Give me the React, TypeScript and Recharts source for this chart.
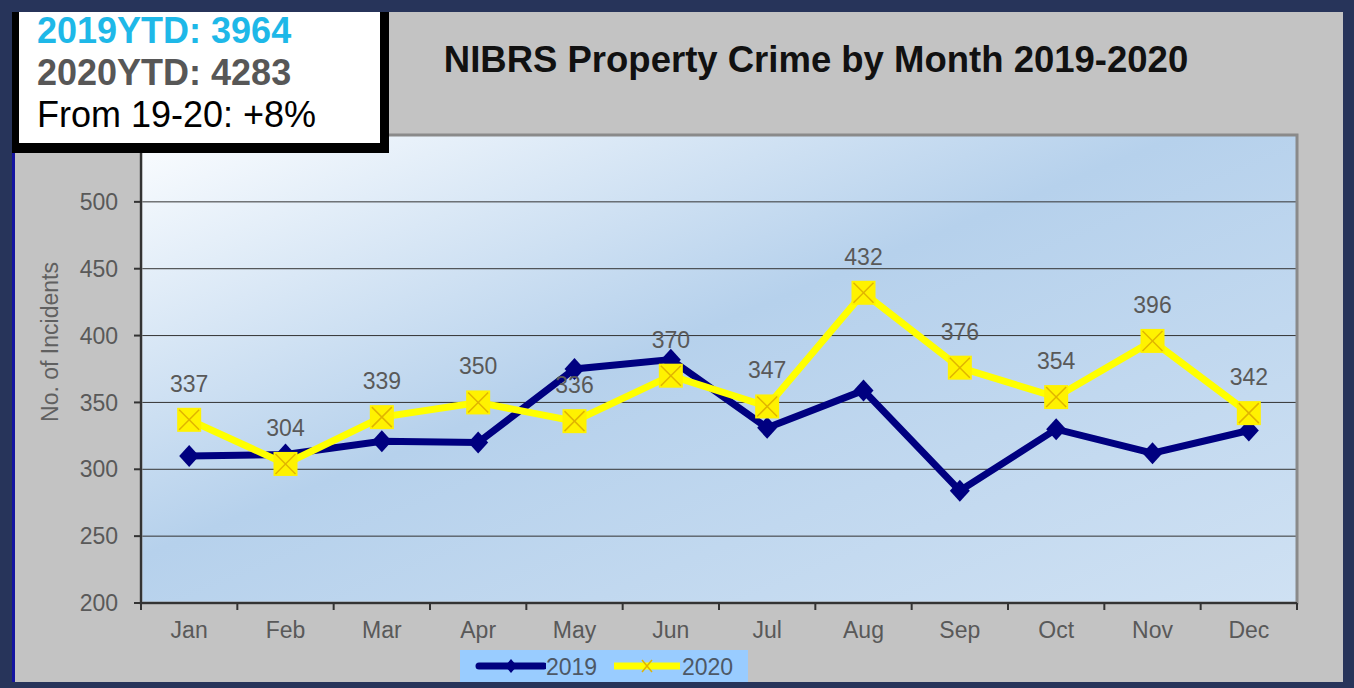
import React from 'react'
import {
  LineChart,
  Line,
  XAxis,
  YAxis,
  CartesianGrid,
  ReferenceArea,
  LabelList,
  Legend
} from 'recharts'

const months = ['Jan', 'Feb', 'Mar', 'Apr', 'May', 'Jun', 'Jul', 'Aug', 'Sep', 'Oct', 'Nov', 'Dec']
const crimes2019 = [310, 311, 321, 320, 375, 382, 331, 359, 284, 330, 312, 329]
const crimes2020 = [337, 304, 339, 350, 336, 370, 347, 432, 376, 354, 396, 342]
// 550 sits behind the YTD box in the original, so only 200-500 show
const yTicks = [200, 250, 300, 350, 400, 450, 500]
const yDomain = [200, 550]

const W = 1354
const H = 688
const PLOT_LEFT = 141
const PLOT_RIGHT = 1297
const PLOT_TOP = 135
const PLOT_BOTTOM = 603
const Y_AXIS_W = 100
const X_AXIS_H = 60
const BAND = (PLOT_RIGHT - PLOT_LEFT) / months.length

const NAVY = '#000080'
const YELLOW = '#ffff00'
const LABEL_GRAY = '#595959'
const FONT = 'Arial, "Liberation Sans", Helvetica, sans-serif'

const chartData = months.map((m, i) => ({ month: m, y2019: crimes2019[i], y2020: crimes2020[i] }))

function DiamondDot(props: any) {
  const { cx, cy } = props
  if (cx == null || cy == null) return null
  return (
    <polygon
      points={`${cx},${cy - 11} ${cx + 10},${cy} ${cx},${cy + 11} ${cx - 10},${cy}`}
      fill={NAVY}
    />
  )
}

function CrossSquareDot(props: any) {
  const { cx, cy } = props
  if (cx == null || cy == null) return null
  const s = 12
  return (
    <g>
      <rect x={cx - s} y={cy - s} width={s * 2} height={s * 2} fill="#fff200" />
      <line x1={cx - s + 2} y1={cy - s + 2} x2={cx + s - 2} y2={cy + s - 2} stroke="#e0b400" strokeWidth={1.5} />
      <line x1={cx + s - 2} y1={cy - s + 2} x2={cx - s + 2} y2={cy + s - 2} stroke="#e0b400" strokeWidth={1.5} />
    </g>
  )
}

// excel style: ticks sit between categories, labels in the middle
function MonthTick(props: any) {
  const { x, y, payload, index } = props
  return (
    <g>
      <line x1={x - BAND / 2} y1={y} x2={x - BAND / 2} y2={y + 7} stroke="#333" strokeWidth={2} />
      {index === months.length - 1 && (
        <line x1={x + BAND / 2} y1={y} x2={x + BAND / 2} y2={y + 7} stroke="#333" strokeWidth={2} />
      )}
      <text x={x} y={y + 35} textAnchor="middle" fill={LABEL_GRAY} fontSize={23} fontFamily={FONT}>
        {payload.value}
      </text>
    </g>
  )
}

// plot frame: the area between first/last month, widened by half a band each side
function PlotFrame(props: any) {
  const { x, y, width, height } = props
  return (
    <rect x={x - BAND / 2} y={y} width={width + BAND} height={height} fill="none" stroke="#8a8a8a" strokeWidth={3} />
  )
}

function LegendBox() {
  return (
    <div
      style={{
        background: '#99ccff',
        width: 288,
        height: 34,
        display: 'flex',
        alignItems: 'center',
        fontFamily: FONT,
        fontSize: 23,
        color: '#4d5866'
      }}
    >
      <svg width={86} height={34} style={{ display: 'block' }}>
        <line x1={19} y1={16} x2={84} y2={16} stroke={NAVY} strokeWidth={7} strokeLinecap="round" />
        <polygon points="51,9 57,16 51,23 45,16" fill={NAVY} />
      </svg>
      <span style={{ width: 66 }}>2019</span>
      <svg width={70} height={34} style={{ display: 'block' }}>
        <line x1={2} y1={16} x2={68} y2={16} stroke={YELLOW} strokeWidth={7} />
        <line x1={30} y1={10} x2={40} y2={22} stroke="#e0b400" strokeWidth={1.5} />
        <line x1={40} y1={10} x2={30} y2={22} stroke="#e0b400" strokeWidth={1.5} />
      </svg>
      <span>2020</span>
    </div>
  )
}

export default function App() {
  return (
    <div style={{ position: 'absolute', left: 0, top: 0, width: W, height: H, background: '#c3c3c3', overflow: 'hidden' }}>
      <div style={{ position: 'absolute', left: 0, top: 0 }}>
        <LineChart
          width={W}
          height={H}
          data={chartData}
          margin={{
            top: PLOT_TOP,
            right: W - PLOT_RIGHT,
            bottom: H - PLOT_BOTTOM - X_AXIS_H,
            left: PLOT_LEFT - Y_AXIS_W
          }}
        >
          <defs>
            <linearGradient id="plotBg" x1="0" y1="0" x2="1" y2="1">
              <stop offset="0%" stopColor="#fbfdff" />
              <stop offset="45%" stopColor="#b6d1ec" />
              <stop offset="100%" stopColor="#cfe1f3" />
            </linearGradient>
          </defs>
          <CartesianGrid vertical={false} fill="url(#plotBg)" fillOpacity={1} stroke="#333" strokeWidth={1} />
          <ReferenceArea
            y1={yDomain[0]}
            y2={yDomain[1]}
            ifOverflow="visible"
            shape={<PlotFrame />}
          />
          <XAxis
            dataKey="month"
            height={X_AXIS_H}
            padding={{ left: BAND / 2, right: BAND / 2 }}
            axisLine={{ stroke: '#333', strokeWidth: 2 }}
            tickLine={false}
            tickSize={0}
            tickMargin={0}
            interval={0}
            tick={<MonthTick />}
          />
          <YAxis
            width={Y_AXIS_W}
            domain={yDomain}
            ticks={yTicks}
            interval={0}
            axisLine={{ stroke: '#333', strokeWidth: 2 }}
            tickLine={{ stroke: '#333', strokeWidth: 2 }}
            tickSize={7}
            tickMargin={16}
            tick={{ fill: LABEL_GRAY, fontSize: 23, fontFamily: FONT }}
            label={{
              content: (p: any) => {
                const vb = p.viewBox
                const lx = vb.x + 9
                const ly = 342
                return (
                  <text
                    x={lx}
                    y={ly}
                    transform={`rotate(-90, ${lx}, ${ly})`}
                    textAnchor="middle"
                    dominantBaseline="central"
                    fill="#606060"
                    fontSize={23}
                    fontFamily={FONT}
                  >
                    No. of Incidents
                  </text>
                )
              }
            }}
          />
          <Line
            type="linear"
            dataKey="y2019"
            name="2019"
            stroke={NAVY}
            strokeWidth={7}
            dot={<DiamondDot />}
            activeDot={false}
            isAnimationActive={false}
          />
          <Line
            type="linear"
            dataKey="y2020"
            name="2020"
            stroke={YELLOW}
            strokeWidth={7}
            dot={<CrossSquareDot />}
            activeDot={false}
            isAnimationActive={false}
          >
            <LabelList dataKey="y2020" position="top" offset={28} fill={LABEL_GRAY} fontSize={23} fontFamily={FONT} />
          </Line>
          <Legend
            layout="horizontal"
            verticalAlign="middle"
            align="center"
            content={() => <LegendBox />}
            wrapperStyle={{ left: 460, top: 650, width: 288, height: 34 }}
          />
        </LineChart>
      </div>

      {/* title */}
      <div
        style={{
          position: 'absolute',
          left: 0,
          width: 1632,
          top: 40,
          textAlign: 'center',
          fontFamily: FONT,
          fontWeight: 'bold',
          fontSize: 36.5,
          lineHeight: '40px',
          color: '#111'
        }}
      >
        NIBRS Property Crime by Month 2019-2020
      </div>

      {/* YTD box */}
      <div
        style={{
          position: 'absolute',
          left: 12,
          top: 12,
          width: 343,
          height: 131,
          background: '#fff',
          borderLeft: '7px solid #000',
          borderRight: '9px solid #000',
          borderBottom: '10px solid #000',
          fontFamily: FONT,
          fontSize: 36,
          lineHeight: '42px',
          paddingLeft: 18,
          paddingTop: 0,
          boxSizing: 'content-box',
          whiteSpace: 'nowrap'
        }}
      >
        <div style={{ marginTop: -2, fontWeight: 'bold', color: '#1eb8e8' }}>2019YTD: 3964</div>
        <div style={{ fontWeight: 'bold', color: '#575757' }}>2020YTD: 4283</div>
        <div style={{ color: '#000' }}>From 19-20: +8%</div>
      </div>

      {/* frame */}
      <div
        style={{
          position: 'absolute',
          left: 0,
          top: 0,
          width: W,
          height: H,
          boxSizing: 'border-box',
          borderTop: '12px solid #27345a',
          borderLeft: '12px solid #27345a',
          borderRight: '11px solid #27345a',
          borderBottom: '6px solid #27345a',
          pointerEvents: 'none'
        }}
      />
      <div style={{ position: 'absolute', left: 12, top: 153, width: 3, height: 529, background: '#1414a0' }} />
    </div>
  )
}
